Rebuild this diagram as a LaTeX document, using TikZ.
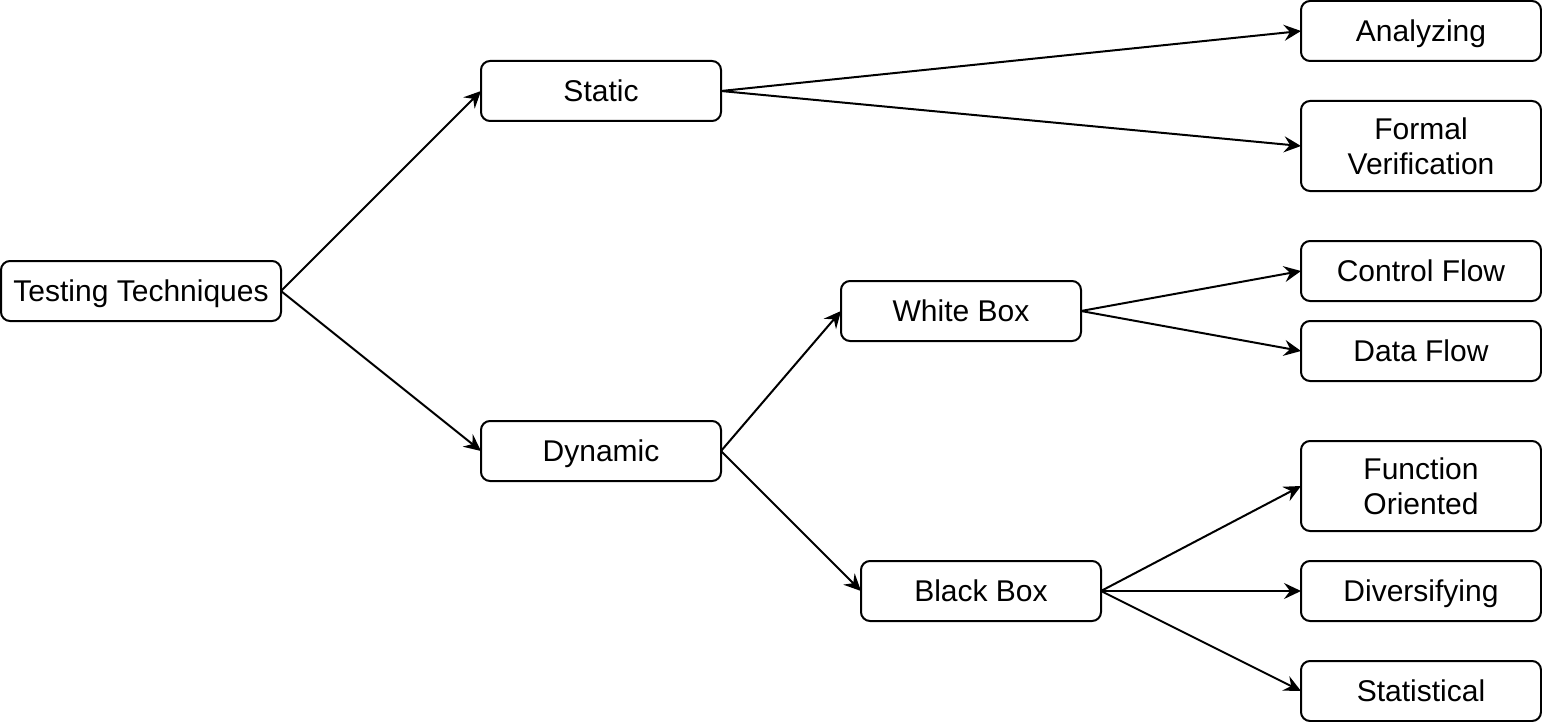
\documentclass[tikz,border=0pt]{standalone}
\usepackage{fontspec}
\setmainfont{Liberation Sans}
\usetikzlibrary{arrows.meta}
\tikzset{
  % plain boxes and arrows, sized in screen pixels (x=0.5pt)
  every picture/.append style = {line width=1pt, >={Stealth[length=8.5pt, width=8pt, inset=3pt]}},
  tbox/.style  = {draw=black, line width=1pt, rounded corners=4.5pt, outer sep=0pt,
                  minimum width=120pt, minimum height=30pt, inner sep=0pt,
                  text height=10.7pt, text depth=0pt,
                  align=center, font=\fontsize{15}{17.5}\selectfont},
  tall/.style  = {minimum height=45pt, text height=, text depth=},
  link/.style  = {->, line width=1pt},
}
\begin{document}
\begin{tikzpicture}[x=0.5pt, y=-0.5pt]
  \useasboundingbox (0,0) rectangle (1542,722);
  % --- root and first split ---------------------------------------------
  \node[tbox, minimum width=140pt] (tech) at (141,291) {Testing Techniques};
  \node[tbox] (static)  at (601,91)  {Static};
  \node[tbox] (dynamic) at (601,451) {Dynamic};
  % --- dynamic branch ----------------------------------------------------
  \node[tbox] (white) at (961,311) {White Box};
  \node[tbox] (black) at (981,591) {Black Box};
  % --- leaves -------------------------------------------------------------
  \node[tbox]       (analyze) at (1421,31)  {Analyzing};
  \node[tbox, tall] (formal)  at (1421,146) {Formal\\Verification};
  \node[tbox]       (control) at (1421,271) {Control Flow};
  \node[tbox]       (data)    at (1421,351) {Data Flow};
  \node[tbox, tall] (func)    at (1421,486) {Function\\Oriented};
  \node[tbox]       (divers)  at (1421,591) {Diversifying};
  \node[tbox]       (stat)    at (1421,691) {Statistical};
  % --- connectors ---------------------------------------------------------
  \draw[link] (tech.east) -- (static.west);
  \draw[link] (tech.east) -- (dynamic.west);
  \draw[link] (static.east) -- (analyze.west);
  \draw[link] (static.east) -- (formal.west);
  \draw[link] (dynamic.east) -- (white.west);
  \draw[link] (dynamic.east) -- (black.west);
  \draw[link] (white.east) -- (control.west);
  \draw[link] (white.east) -- (data.west);
  \foreach \leaf in {func, divers, stat}
    \draw[link] (black.east) -- (\leaf.west);
\end{tikzpicture}
\end{document}
